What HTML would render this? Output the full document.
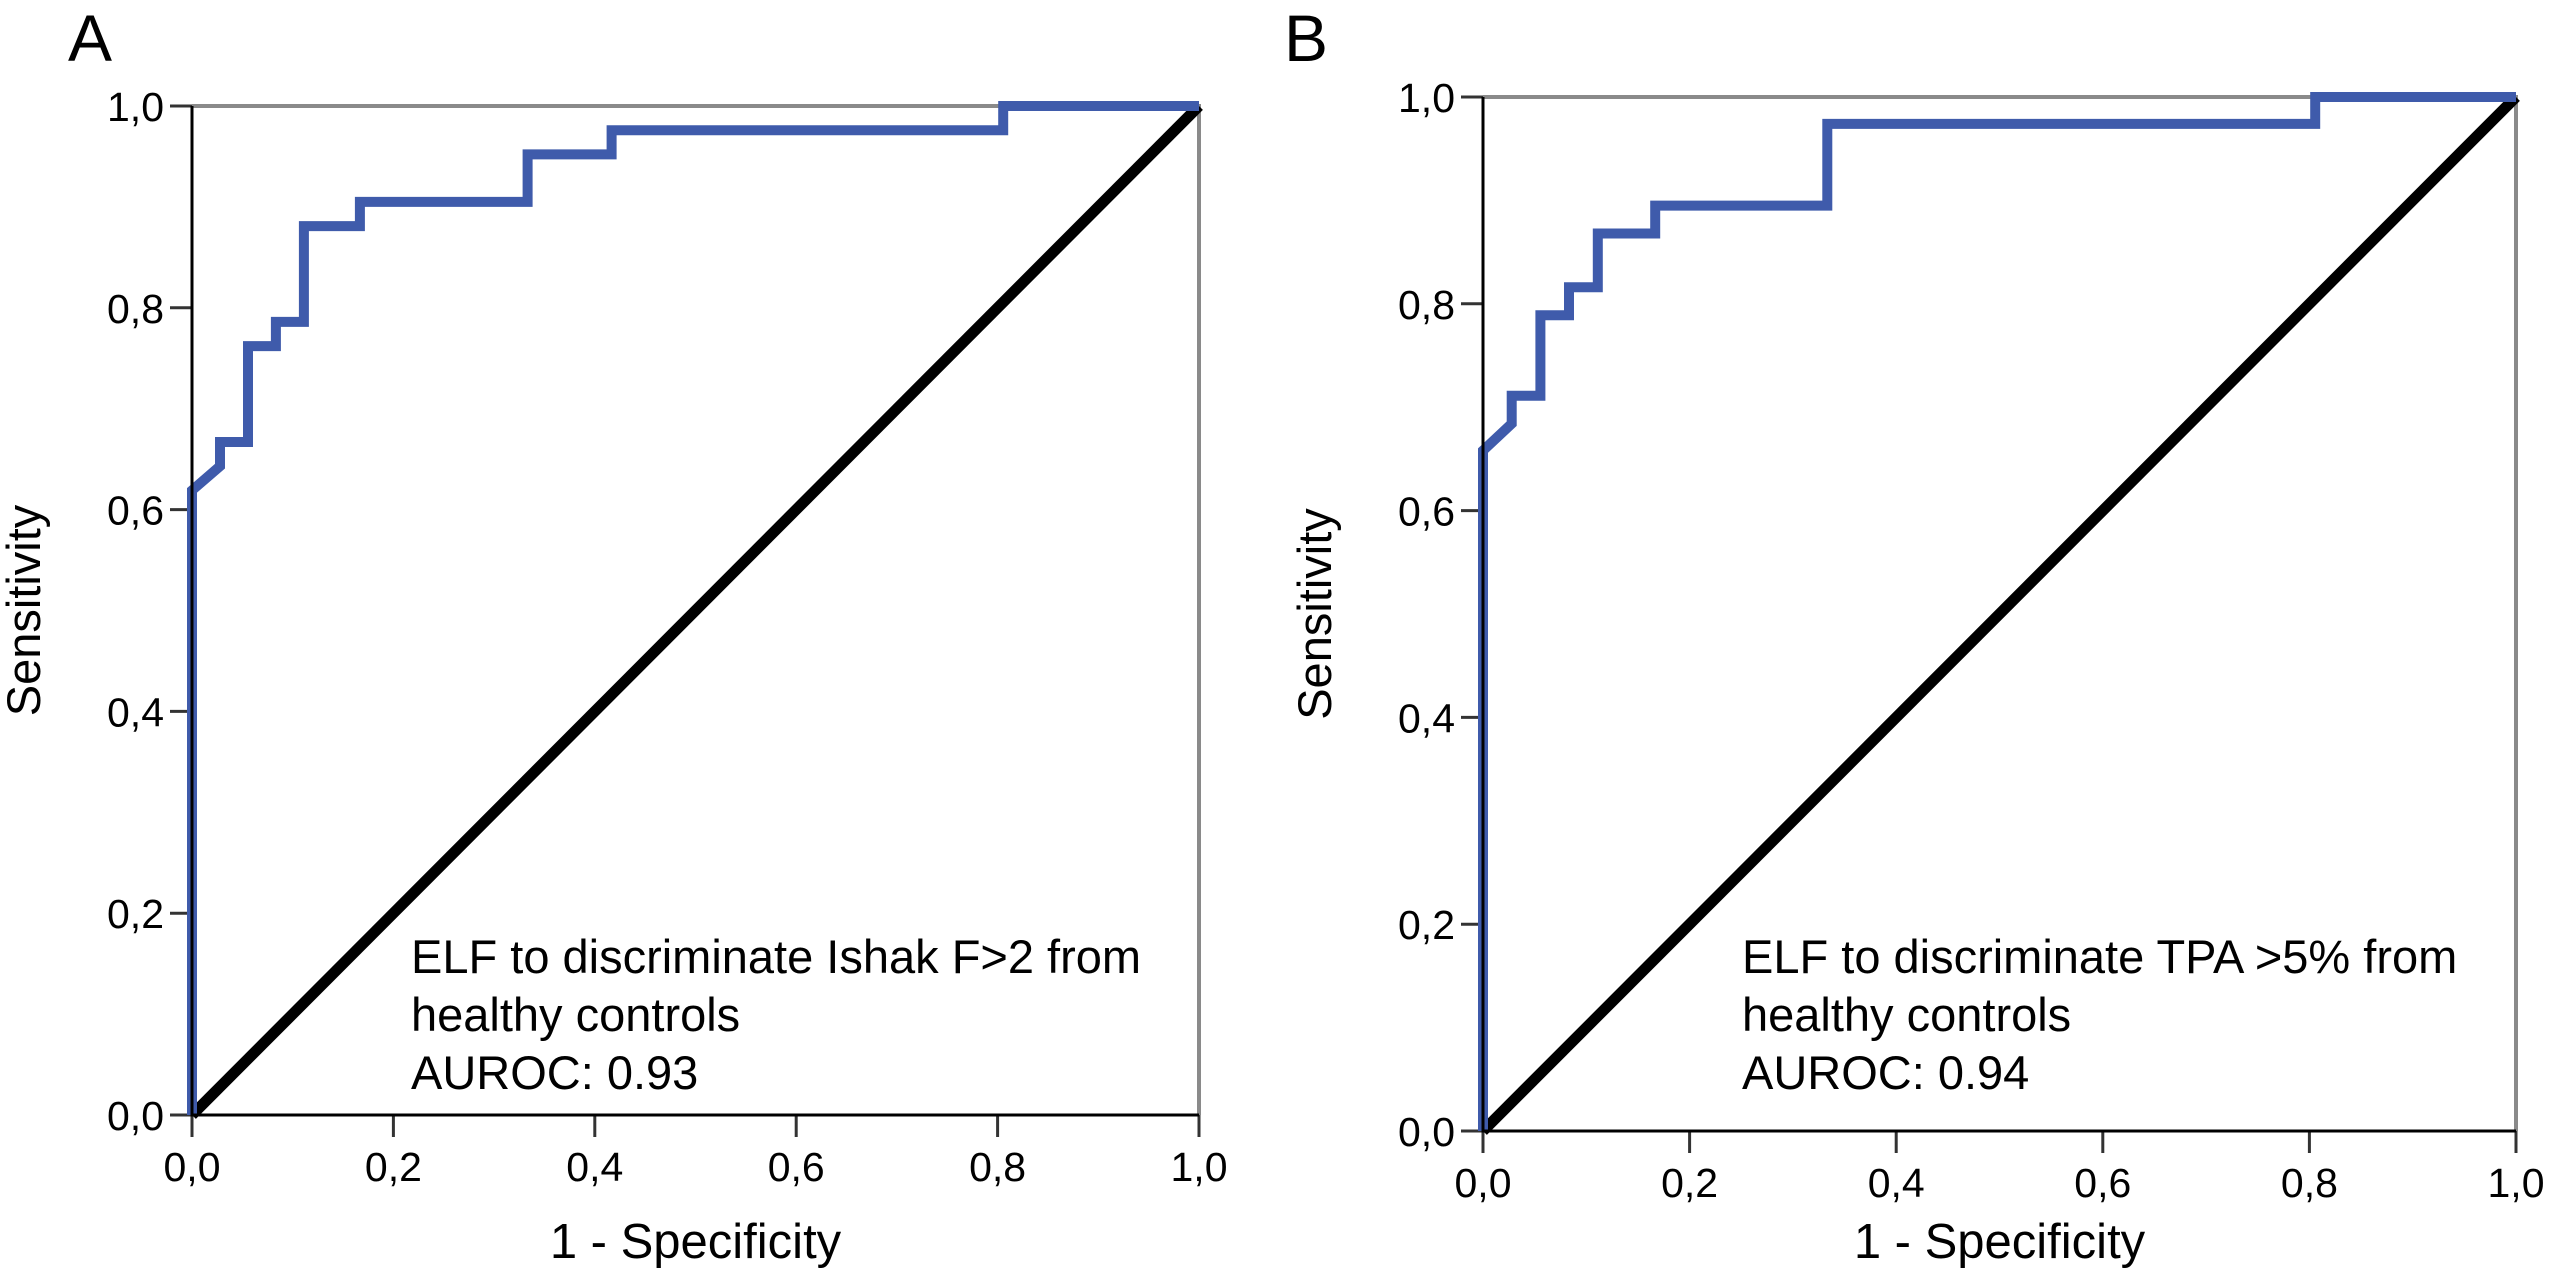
<!DOCTYPE html>
<html><head><meta charset="utf-8"><style>
html,body{margin:0;padding:0;background:#fff;}
svg{display:block;font-family:"Liberation Sans",Arial,sans-serif;}
</style></head><body>
<svg id="fig" width="2550" height="1271" viewBox="0 0 2550 1271" xmlns="http://www.w3.org/2000/svg"></svg>
<script>
// Panel A data (1 - specificity, sensitivity)
const aFpr = [0, 0, 0.0278, 0.0278, 0.0556, 0.0556, 0.0833, 0.0833, 0.1111, 0.1111, 0.1667, 0.1667, 0.3333, 0.3333, 0.4167, 0.4167, 0.8056, 0.8056, 1.0];
const aTpr = [0, 0.619, 0.643, 0.667, 0.667, 0.762, 0.762, 0.786, 0.786, 0.881, 0.881, 0.905, 0.905, 0.952, 0.952, 0.976, 0.976, 1.0, 1.0];
// Panel B data
const bFpr = [0, 0, 0.0278, 0.0278, 0.0556, 0.0556, 0.0833, 0.0833, 0.1111, 0.1111, 0.1667, 0.1667, 0.3333, 0.3333, 0.8056, 0.8056, 1.0];
const bTpr = [0, 0.658, 0.684, 0.711, 0.711, 0.789, 0.789, 0.816, 0.816, 0.868, 0.868, 0.895, 0.895, 0.974, 0.974, 1.0, 1.0];
const tickValues = [0, 0.2, 0.4, 0.6, 0.8, 1.0];
const tickLabels = ["0,0", "0,2", "0,4", "0,6", "0,8", "1,0"];
const annA = ["ELF to discriminate Ishak F>2 from", "healthy controls", "AUROC: 0.93"];
const annB = ["ELF to discriminate TPA >5% from", "healthy controls", "AUROC: 0.94"];

const NS = "http://www.w3.org/2000/svg";
const svg = document.getElementById('fig');
function mk(tag, attrs, parent, text) {
  const e = document.createElementNS(NS, tag);
  for (const k in attrs) e.setAttribute(k, attrs[k]);
  if (text !== undefined) e.textContent = text;
  parent.appendChild(e);
  return e;
}

function panel(id, letter, lx, x0, x1, y0, y1, fpr, tpr, ann, annX) {
  const g = mk('g', {}, svg);
  
  
  const sx = v => x0 + v * (x1 - x0);
  const sy = v => y0 - v * (y0 - y1);

  const L = mk('text', {x: lx, y: 61, 'font-size': 66}, g, letter);
  
  

  const fr = mk('path', {d: `M${x0} ${y1}H${x1}V${y0}`, fill: 'none', stroke: '#8a8a8a', 'stroke-width': 4}, g);
  
  

  tickValues.forEach((v, i) => {
    const ty = mk('line', {x1: x0 - 22, x2: x0, y1: sy(v), y2: sy(v), stroke: '#333', 'stroke-width': 3}, g);
    
    
    const tl = mk('text', {x: x0 - 28, y: sy(v) + 15, 'font-size': 41, 'text-anchor': 'end'}, g, tickLabels[i]);
    
    
    const tx = mk('line', {x1: sx(v), x2: sx(v), y1: y0, y2: y0 + 22, stroke: '#333', 'stroke-width': 3}, g);
    
    
    const xl = mk('text', {x: sx(v), y: y0 + 66, 'font-size': 41, 'text-anchor': 'middle'}, g, tickLabels[i]);
    
    
  });

  const d = mk('line', {x1: sx(0), y1: sy(0), x2: sx(1), y2: sy(1), stroke: '#000', 'stroke-width': 11}, g);
  
  

  let p = '';
  fpr.forEach((v, i) => { p += (i ? 'L' : 'M') + sx(v).toFixed(1) + ' ' + sy(tpr[i]).toFixed(1); });
  const c = mk('path', {d: p, fill: 'none', stroke: '#3f5bab', 'stroke-width': 10, 'stroke-linejoin': 'miter'}, g);
  
  

  const ax = mk('path', {d: `M${x0} ${y1}V${y0}H${x1}`, fill: 'none', stroke: '#000', 'stroke-width': 3}, g);
  
  

  const an = mk('text', {x: annX, y: 973, 'font-size': 47}, g);
  
  
  ann.forEach((s, i) => { mk('tspan', {x: annX, y: 973 + i * 58}, an, s); });

  const xt = mk('text', {x: (x0 + x1) / 2, y: 1258, 'font-size': 49, 'text-anchor': 'middle'}, g, '1 - Specificity');
  
  
  const ytx = x0 - 152, yty = (y0 + y1) / 2;
  const yt = mk('text', {x: ytx, y: yty, 'font-size': 47, 'text-anchor': 'middle', transform: `rotate(-90 ${ytx} ${yty})`}, g, 'Sensitivity');
  
  
}

panel('a', 'A', 68, 192, 1199, 1115, 106, aFpr, aTpr, annA, 411);
panel('b', 'B', 1284, 1483, 2516, 1131, 97, bFpr, bTpr, annB, 1742);
</script>
</body></html>
